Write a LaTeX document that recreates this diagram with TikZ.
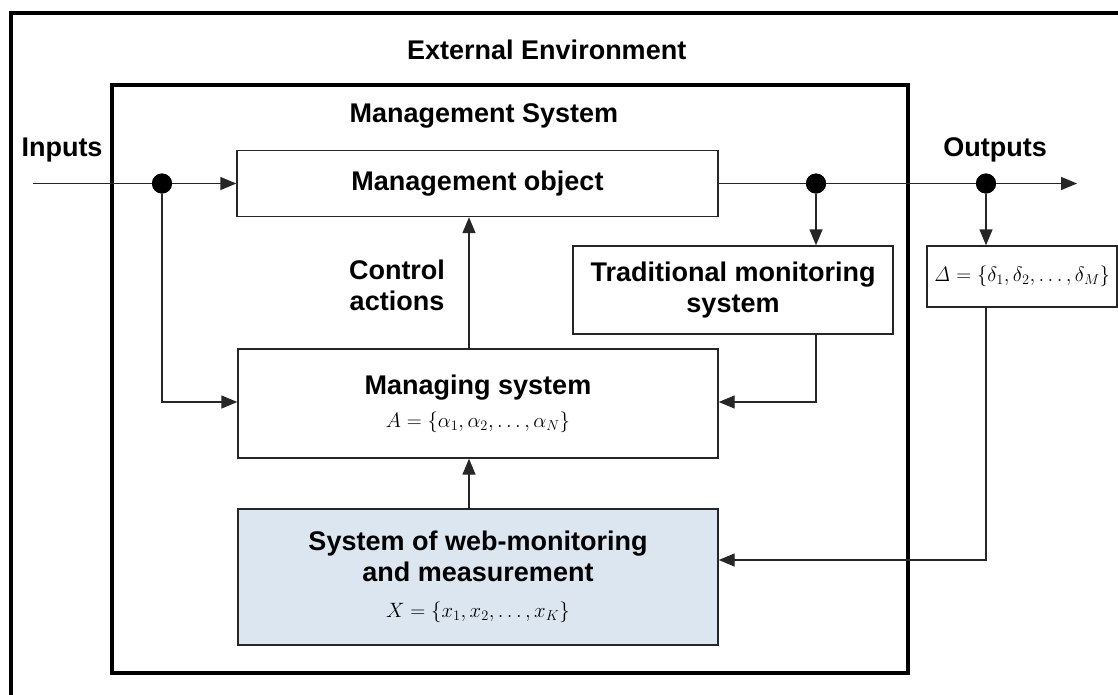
\documentclass[tikz,border=0pt]{standalone}
\usepackage[no-math]{fontspec}
\setmainfont{Liberation Sans}
\usetikzlibrary{arrows.meta}
\newcommand{\mathsz}{\fontsize{21}{24}\selectfont}
\begin{document}
\begin{tikzpicture}[x=1pt,y=-1pt,
  frame/.style={draw=black,line width=3.5pt},
  blk/.style={draw=black!85,line width=1.4pt,fill=white,align=center,inner sep=0pt,
    font=\bfseries\fontsize{27}{31}\selectfont},
  lbl/.style={align=center,inner sep=0pt,font=\bfseries\fontsize{27}{31}\selectfont},
  wire/.style={draw=black!85,line width=1.4pt},
  flow/.style={wire,-{Triangle[length=16pt,width=13pt]}},
  junction/.style={circle,fill=black,inner sep=0pt,minimum size=20pt}
]
\useasboundingbox (0,0) rectangle (1118,694);
\clip (0,0) rectangle (1118,694);
\fill[white] (0,0) rectangle (1118,694);

% environment and system frames
\draw[frame] (11,13) rectangle (1140,720);
\draw[frame] (112,85) rectangle (908,673);

% frame titles and side labels
\node[lbl,anchor=west] (ext) at (407,50) {External Environment};
\node[lbl] (sys) at (484,116) {Management System};
\node[lbl] (inputs) at (62,150) {Inputs};
\node[lbl] (outputs) at (995,150) {Outputs};
\node[lbl] (ctlabel) at (397,285) {Control\\actions};

% blocks
\node[blk,minimum width=481pt,minimum height=66pt] (mo) at (477.5,183.5) {Management object};
\node[blk,minimum width=320pt,minimum height=88pt] (tm) at (733,290) {Traditional monitoring\\system};
\node[blk,minimum width=190pt,minimum height=61pt] (dl) at (1022,276.5)
  {\mathsz$\mathit{\Delta}=\{\delta_1,\delta_2,\ldots,\delta_M\}$};
\node[blk,minimum width=480pt,minimum height=109pt] (ms) at (478,403.5)
  {Managing system\\[2pt]\mathsz$A=\{\alpha_1,\alpha_2,\ldots,\alpha_N\}$};
\node[blk,fill={rgb,255:red,220;green,230;blue,241},minimum width=480pt,minimum height=136pt] (web) at (478,577)
  {System of web-monitoring\\and measurement\\[5pt]\mathsz$X=\{x_1,x_2,\ldots,x_K\}$};

% connectors
\coordinate (in) at (33,183.5);
\coordinate (out) at (1077,183.5);
\coordinate (ctl) at (469,0);
\node[junction] (j1) at (162,183.5) {};
\node[junction] (j2) at (816,183.5) {};
\node[junction] (j3) at (986,183.5) {};

\draw[flow] (in) -- (mo.west);
\draw[flow] (mo.east) -- (out);
\draw[flow] (j1) |- ([yshift=1.5pt]ms.west);
\draw[flow] (j2) -- (j2 |- tm.north);
\draw[flow] (j3) -- (j3 |- dl.north);
\draw[flow] (tm.south -| j2) |- ([yshift=1.5pt]ms.east);
\draw[flow] (dl.south -| j3) |- ([yshift=17pt]web.east);
\draw[flow] (ms.north -| ctl) -- (mo.south -| ctl);
\draw[flow] (web.north -| ctl) -- (ms.south -| ctl);

% redraw junction dots over the wires
\fill (j1) circle (10pt);
\fill (j2) circle (10pt);
\fill (j3) circle (10pt);
\end{tikzpicture}
\end{document}
